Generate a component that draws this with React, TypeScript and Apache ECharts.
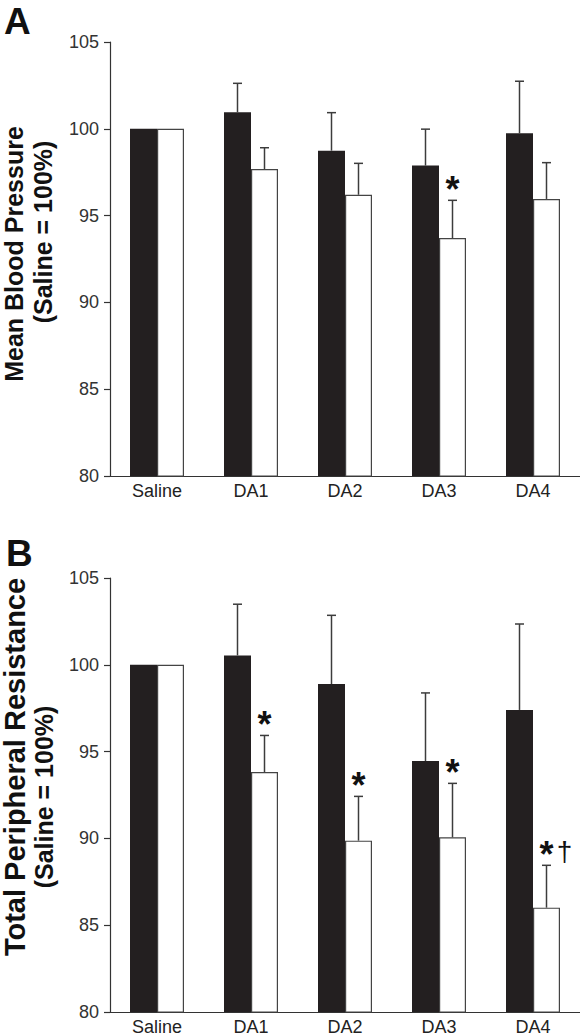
import React, { useEffect, useRef } from "react";
import * as echarts from "echarts";

const categories = ["Saline", "DA1", "DA2", "DA3", "DA4"];

// Panel A: Mean Blood Pressure (Saline = 100%)
const mbpBlack = [100, 100.95, 98.74, 97.88, 99.74];
const mbpBlackErr = [0, 1.67, 2.19, 2.1, 3.0];
const mbpWhite = [100, 97.68, 96.2, 93.71, 95.96];
const mbpWhiteErr = [0, 1.23, 1.81, 2.17, 2.09];
const mbpWhiteMarks = ["", "", "", "*", ""];

// Panel B: Total Peripheral Resistance (Saline = 100%)
const tprBlack = [100, 100.54, 98.89, 94.46, 97.4];
const tprBlackErr = [0, 2.95, 3.96, 3.92, 4.95];
const tprWhite = [100, 93.82, 89.87, 90.06, 86.01];
const tprWhiteErr = [0, 2.11, 2.55, 3.11, 2.44];
const tprWhiteMarks = ["", "*", "*", "*", "*†"];

const yTicks = [80, 85, 90, 95, 100, 105];

const FONT = "'Liberation Sans', Arial, Helvetica, sans-serif";
const BAR_W = 27;
const INK = "#231f20";
const ERR = "#3c3c3c";

function errSeries(
  axisIndex: number,
  values: number[],
  errs: number[],
  offset: number,
  marks: string[] | null
) {
  return {
    type: "custom",
    xAxisIndex: axisIndex,
    yAxisIndex: axisIndex,
    z: 5,
    silent: true,
    data: values.map((v, i) => [i, v, errs[i]]),
    renderItem: (params: any, api: any) => {
      const i = api.value(0);
      const v = api.value(1);
      const e = api.value(2);
      const children: any[] = [];
      const base = api.coord([i, v]);
      const top = api.coord([i, v + e]);
      const x = base[0] + offset;
      if (e > 0) {
        children.push({
          type: "line",
          shape: { x1: x, y1: base[1], x2: x, y2: top[1] },
          style: { stroke: ERR, lineWidth: 1.5 },
        });
        children.push({
          type: "line",
          shape: { x1: x - 4.5, y1: top[1], x2: x + 4.5, y2: top[1] },
          style: { stroke: ERR, lineWidth: 1.5 },
        });
      }
      const m = marks ? marks[params.dataIndex] : "";
      if (m && m.indexOf("*") >= 0) {
        children.push({
          type: "text",
          x: x,
          y: top[1] - 11,
          style: {
            text: "*",
            font: `bold 36px ${FONT}`,
            fill: "#111",
            align: "center",
            verticalAlign: "middle",
          },
        });
      }
      if (m && m.indexOf("†") >= 0) {
        children.push({
          type: "text",
          x: x + 18,
          y: top[1] - 14,
          style: {
            text: "†",
            font: `28px ${FONT}`,
            fill: "#111",
            align: "center",
            verticalAlign: "middle",
          },
        });
      }
      return { type: "group", children };
    },
  };
}

export default function App() {
  const ref = useRef<HTMLDivElement>(null);

  useEffect(() => {
    if (!ref.current) return;
    const chart = echarts.init(ref.current, null, { renderer: "svg" });

    const yAxisBase = (gi: number) => ({
      type: "value",
      gridIndex: gi,
      min: 80,
      max: 105,
      interval: 5,
      axisLine: { show: true, lineStyle: { color: "#333", width: 1.2 } },
      axisTick: { show: true, inside: false, length: 6, lineStyle: { color: "#333", width: 1.2 } },
      splitLine: { show: false },
      axisLabel: {
        color: "#333",
        fontSize: 18,
        fontFamily: FONT,
        margin: 11,
        formatter: (v: number) => (yTicks.indexOf(v) >= 0 ? String(v) : ""),
      },
    });

    const xAxisBase = (gi: number) => ({
      type: "category",
      gridIndex: gi,
      data: categories,
      axisLine: { show: true, lineStyle: { color: "#333", width: 1.2 } },
      axisTick: { show: false },
      axisLabel: { color: "#222", fontSize: 18, fontFamily: FONT, margin: 6 },
    });

    const blackBar = (gi: number, data: number[]) => ({
      type: "bar",
      xAxisIndex: gi,
      yAxisIndex: gi,
      data,
      barWidth: BAR_W,
      barGap: "0%",
      itemStyle: { color: INK },
    });
    const whiteBar = (gi: number, data: number[]) => ({
      type: "bar",
      xAxisIndex: gi,
      yAxisIndex: gi,
      data,
      barWidth: BAR_W,
      barGap: "0%",
      itemStyle: { color: "#ffffff", borderColor: "#444", borderWidth: 1.2 },
    });

    const rotText = (text: string, x: number, y: number, size: number) => ({
      type: "text",
      x,
      y,
      rotation: Math.PI / 2,
      style: {
        text,
        font: `bold ${size}px ${FONT}`,
        fill: "#111",
        align: "center",
        verticalAlign: "middle",
      },
    });

    chart.setOption({
      animation: false,
      backgroundColor: "#ffffff",
      grid: [
        { left: 110, top: 42, width: 471, height: 434 },
        { left: 110, top: 578, width: 471, height: 434 },
      ],
      xAxis: [xAxisBase(0), xAxisBase(1)],
      yAxis: [yAxisBase(0), yAxisBase(1)],
      series: [
        blackBar(0, mbpBlack),
        whiteBar(0, mbpWhite),
        errSeries(0, mbpBlack, mbpBlackErr, -BAR_W / 2, null),
        errSeries(0, mbpWhite, mbpWhiteErr, BAR_W / 2, mbpWhiteMarks),
        blackBar(1, tprBlack),
        whiteBar(1, tprWhite),
        errSeries(1, tprBlack, tprBlackErr, -BAR_W / 2, null),
        errSeries(1, tprWhite, tprWhiteErr, BAR_W / 2, tprWhiteMarks),
      ],
      graphic: [
        {
          type: "text",
          left: 4,
          top: 3,
          style: { text: "A", font: `bold 37px ${FONT}`, fill: "#111" },
        },
        {
          type: "text",
          left: 6,
          top: 535,
          style: { text: "B", font: `bold 37px ${FONT}`, fill: "#111" },
        },
        rotText("Mean Blood Pressure", 14, 254, 25),
        rotText("(Saline = 100%)", 43, 232, 25),
        rotText("Total Peripheral Resistance", 15, 767, 29),
        rotText("(Saline = 100%)", 44, 797, 25),
      ],
    });

    return () => chart.dispose();
  }, []);

  return (
    <div
      ref={ref}
      style={{ position: "absolute", left: 0, top: 0, width: 580, height: 1036 }}
    />
  );
}
